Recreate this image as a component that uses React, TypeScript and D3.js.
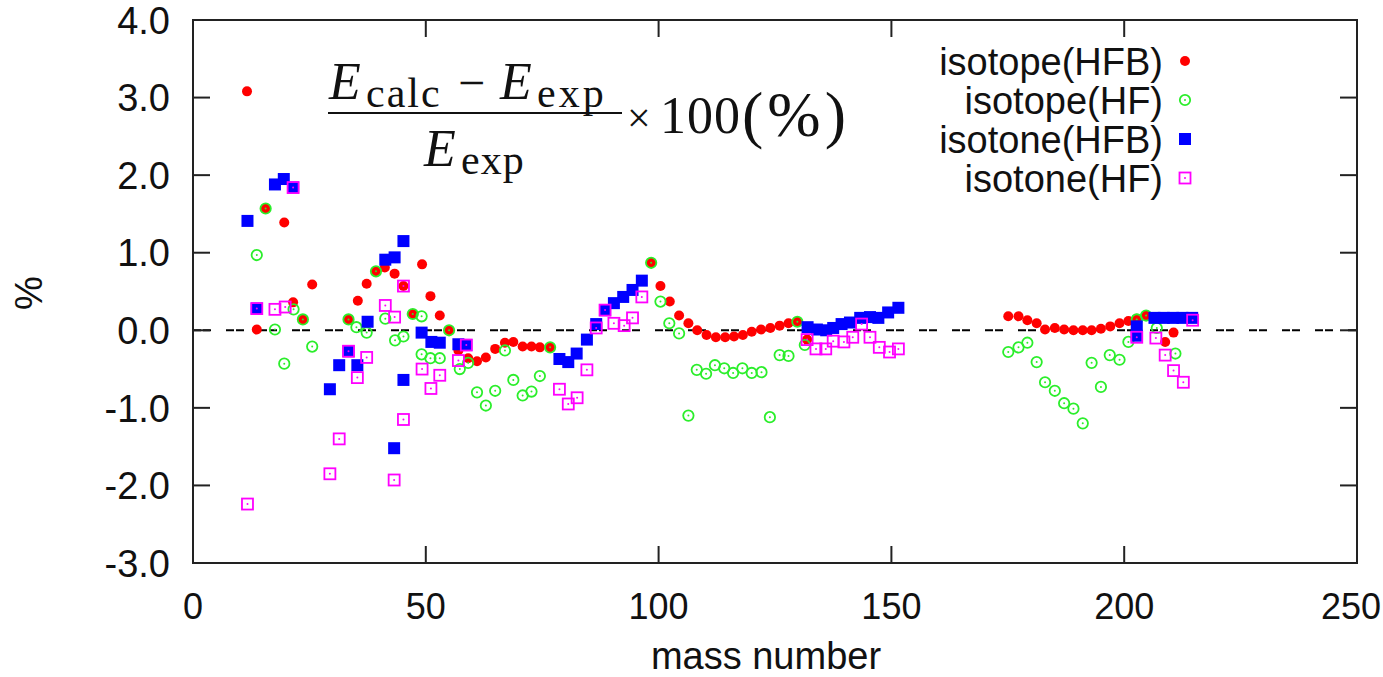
import React, { useEffect, useRef } from "react";
import * as d3 from "d3";

type P = [number, number];

const isotopeHFB: P[] = [
  [11.6, 3.08], [13.7, 0.01], [15.6, 1.57], [19.6, 1.39], [21.5, 0.36], [23.6, 0.14], [25.6, 0.59],
  [33.4, 0.14], [35.4, 0.38], [37.3, 0.6], [39.3, 0.76], [41.2, 0.81], [43.3, 0.73], [45.2, 0.57],
  [47.2, 0.21], [49.2, 0.85], [51, 0.44], [53, 0.19], [55, 0.0], [57, -0.26], [59.1, -0.36],
  [61, -0.4], [62.9, -0.35], [64.9, -0.24], [67, -0.16], [68.8, -0.15], [70.8, -0.21], [72.7, -0.21],
  [74.5, -0.22], [76.7, -0.22],
  [98.4, 0.87], [100.4, 0.57], [102.4, 0.37], [104.4, 0.19], [106.4, 0.09], [108.3, 0.0],
  [110.3, -0.06], [112.3, -0.09], [114.3, -0.09], [116.2, -0.08], [118.1, -0.06], [120, -0.02],
  [122, 0.01], [124, 0.03], [126, 0.06], [127.9, 0.09], [129.8, 0.11], [131.9, -0.12],
  [175.1, 0.18], [177.3, 0.18], [179.2, 0.13], [181.2, 0.09], [183, 0.01], [185.1, 0.03],
  [187.1, 0.01], [189.1, 0.0], [191.1, 0.0], [193, 0.0], [195, 0.02], [197, 0.05], [199, 0.09],
  [200.9, 0.12], [202.7, 0.15], [204.7, 0.19], [208.8, -0.15], [210.6, -0.03],
];

const isotopeHF: P[] = [
  [13.7, 0.97], [15.6, 1.57], [17.6, 0.01], [19.6, -0.43], [21.6, 0.27], [23.6, 0.14], [25.6, -0.21],
  [33.4, 0.14], [35.1, 0.04], [37.3, -0.03], [39.3, 0.76], [41.3, 0.15], [43.4, -0.13], [45.2, -0.08],
  [47.2, 0.21], [49.1, 0.18], [49.1, -0.31], [51, -0.36], [53, -0.36], [55, 0.0], [57.3, -0.5],
  [59.1, -0.42], [61, -0.8], [62.9, -0.97], [64.9, -0.78], [67, -0.26], [68.8, -0.64], [70.8, -0.84],
  [72.7, -0.79], [74.5, -0.59], [76.7, -0.22],
  [98.4, 0.87], [100.4, 0.37], [102.3, 0.09], [104.4, -0.04], [106.4, -1.1], [108.2, -0.51],
  [110.2, -0.56], [112.1, -0.45], [114.1, -0.49], [116, -0.55], [118, -0.49], [120, -0.55],
  [122.1, -0.54], [123.9, -1.12], [126, -0.32], [127.9, -0.33], [129.8, 0.11], [131.4, -0.19],
  [175.1, -0.28], [177.3, -0.22], [179.2, -0.16], [181.2, -0.41], [183, -0.67], [185.1, -0.78],
  [187.1, -0.94], [189.1, -1.01], [191.1, -1.2], [193, -0.42], [195, -0.73], [196.9, -0.32],
  [199, -0.38], [200.9, -0.15], [202.7, 0.14], [204.7, 0.19], [207, 0.03], [211, -0.3],
];

const isotoneHFB: P[] = [
  [11.7, 1.41], [13.7, 0.28], [17.6, 1.88], [19.5, 1.95], [21.5, 1.84], [29.4, -0.76], [31.4, -0.45],
  [33.4, -0.27], [35.3, -0.45], [37.5, 0.11], [41.3, 0.91], [43.3, 0.94], [43.2, -1.52], [45.2, 1.15],
  [45.2, -0.64], [49.1, -0.03], [51.2, -0.15], [53, -0.16], [57, -0.18], [58.7, -0.19],
  [78.7, -0.37], [80.6, -0.41], [82.4, -0.3], [84.6, -0.12], [86.6, 0.08], [88.5, 0.26], [90.4, 0.35],
  [92.4, 0.43], [94.4, 0.52], [96.4, 0.64],
  [132, 0.04], [134, 0.01], [136, 0.0], [137.5, 0.03], [139.3, 0.08], [141.1, 0.1], [143.3, 0.16],
  [145.4, 0.17], [147.2, 0.16], [149.3, 0.23], [151.5, 0.29],
  [202.7, 0.05], [202.7, -0.07], [206.5, 0.16], [208.5, 0.16], [210.5, 0.16], [212.5, 0.16], [214.6, 0.16],
];

const isotoneHF: P[] = [
  [11.7, -2.24], [13.7, 0.28], [17.6, 0.27], [19.8, 0.3], [21.5, 1.84], [29.4, -1.85], [31.4, -1.4],
  [33.4, -0.27], [35.3, -0.61], [37.3, -0.35], [41.3, 0.32], [43.3, 0.17], [43.2, -1.93], [45.2, 0.57],
  [45.2, -1.15], [49.2, -0.5], [51.1, -0.75], [53, -0.58], [57, -0.39], [58.7, -0.19],
  [78.7, -0.76], [80.6, -0.95], [82.5, -0.87], [84.6, -0.51], [86.6, 0.03], [88.5, 0.26], [90.4, 0.09],
  [92.6, 0.06], [94.4, 0.16], [96.4, 0.43],
  [131.9, -0.12], [133.8, -0.24], [135.9, -0.24], [137.5, -0.14], [139.8, -0.15], [141.7, -0.09],
  [143.6, 0.08], [145.4, -0.09], [147.4, -0.22], [149.6, -0.28], [151.5, -0.24],
  [202.7, -0.09], [206.8, -0.1], [208.8, -0.32], [210.6, -0.52], [212.7, -0.67], [214.7, 0.13],
];

const xTicks = [0, 50, 100, 150, 200, 250];
const yTicks = [-3, -2, -1, 0, 1, 2, 3, 4];
const legendLabels = ["isotope(HFB)", "isotope(HF)", "isotone(HFB)", "isotone(HF)"];
const xTitle = "mass number";
const yTitle = "%";

const RED = "#ff0000";
const GREEN = "#2bee2b";
const BLUE = "#0000ff";
const MAG = "#ff00ff";
const SANS = "'Liberation Sans', Arial, sans-serif";
const SERIF = "'Liberation Serif', 'Times New Roman', serif";

export default function App() {
  const ref = useRef<SVGSVGElement>(null);
  useEffect(() => {
    const svg = d3.select(ref.current);
    svg.selectAll("*").remove();
    const x = d3.scaleLinear().domain([0, 250]).range([193, 1357]);
    const y = d3.scaleLinear().domain([-3, 4]).range([563, 20]);
    const [x0, x1] = x.range();
    const [yb, yt] = y.range();
    const tl = 17;

    // zero line
    svg.append("line")
      .attr("x1", x0).attr("x2", x1).attr("y1", y(0)).attr("y2", y(0))
      .attr("stroke", "#000").attr("stroke-width", 2).attr("stroke-dasharray", "8 2 8 15");

    const g = svg.append("g").attr("stroke", "#222").attr("stroke-width", 2);
    yTicks.forEach((t) => {
      g.append("line").attr("x1", x0).attr("x2", x0 + tl).attr("y1", y(t)).attr("y2", y(t));
      g.append("line").attr("x1", x1).attr("x2", x1 - tl).attr("y1", y(t)).attr("y2", y(t));
    });
    xTicks.forEach((t) => {
      g.append("line").attr("x1", x(t)).attr("x2", x(t)).attr("y1", yb).attr("y2", yb - tl);
      g.append("line").attr("x1", x(t)).attr("x2", x(t)).attr("y1", yt).attr("y2", yt + tl);
    });
    g.append("rect").attr("x", x0).attr("y", yt).attr("width", x1 - x0).attr("height", yb - yt)
      .attr("fill", "none");

    // tick labels
    svg.append("g").selectAll("text").data(yTicks).join("text")
      .attr("x", 170).attr("y", (d) => y(d)).attr("dy", "0.36em")
      .attr("text-anchor", "end").attr("font-family", SANS).attr("font-size", 38).attr("fill", "#111")
      .text((d) => d.toFixed(1));
    svg.append("g").selectAll("text").data(xTicks).join("text")
      .attr("x", (d, i) => (i === xTicks.length - 1 ? 1381 : x(d))).attr("y", 619)
      .attr("text-anchor", (d, i) => (i === xTicks.length - 1 ? "end" : "middle"))
      .attr("font-family", SANS).attr("font-size", 36).attr("fill", "#111")
      .text((d) => String(d));

    svg.append("text").attr("x", 766).attr("y", 669).attr("text-anchor", "middle")
      .attr("font-family", SANS).attr("font-size", 38).attr("fill", "#111").text(xTitle);
    svg.append("text").attr("transform", "translate(42,293) rotate(-90)").attr("text-anchor", "middle")
      .attr("font-family", SANS).attr("font-size", 38).attr("fill", "#111").text(yTitle);

    // markers
    const drawDot = (sel: any, cx: number, cy: number) =>
      sel.append("circle").attr("cx", cx).attr("cy", cy).attr("r", 5).attr("fill", RED);
    const drawRing = (sel: any, cx: number, cy: number) => {
      sel.append("circle").attr("cx", cx).attr("cy", cy).attr("r", 5.2).attr("fill", "none")
        .attr("stroke", GREEN).attr("stroke-width", 1.8);
      sel.append("circle").attr("cx", cx).attr("cy", cy).attr("r", 1).attr("fill", GREEN);
    };
    const drawBox = (sel: any, cx: number, cy: number) =>
      sel.append("rect").attr("x", cx - 6).attr("y", cy - 6).attr("width", 12).attr("height", 12).attr("fill", BLUE);
    const drawOpenBox = (sel: any, cx: number, cy: number) => {
      sel.append("rect").attr("x", cx - 5.5).attr("y", cy - 5.5).attr("width", 11).attr("height", 11)
        .attr("fill", "none").attr("stroke", MAG).attr("stroke-width", 1.8);
      sel.append("circle").attr("cx", cx).attr("cy", cy).attr("r", 1).attr("fill", MAG);
    };

    const series: [P[], (s: any, a: number, b: number) => void][] = [
      [isotopeHFB, drawDot],
      [isotopeHF, drawRing],
      [isotoneHFB, drawBox],
      [isotoneHF, drawOpenBox],
    ];
    series.forEach(([data, fn]) => {
      const sg = svg.append("g");
      data.forEach(([a, v]) => fn(sg, x(a), y(v)));
    });

    // legend
    const lg = svg.append("g");
    legendLabels.forEach((lab, i) => {
      const cy = 61 + i * 39;
      lg.append("text").attr("x", 1163).attr("y", cy).attr("dy", "0.36em").attr("text-anchor", "end")
        .attr("font-family", SANS).attr("font-size", 38).attr("fill", "#111").text(lab);
      series[i][1](lg, 1185, cy);
    });

    // formula
    const f = svg.append("g").attr("font-family", SERIF).attr("fill", "#111");
    const t = (xx: number, yy: number, s: string, size: number, italic = false, ls = 0) =>
      f.append("text").attr("x", xx).attr("y", yy).attr("font-size", size)
        .attr("font-style", italic ? "italic" : "normal").attr("letter-spacing", ls).text(s);
    t(329, 99, "E", 52, true);
    t(366, 107, "calc", 42, false, 2);
    t(458, 99, "\u2212", 48);
    t(500, 99, "E", 52, true);
    t(537, 107, "exp", 42, false, 3);
    f.append("line").attr("x1", 328).attr("x2", 622).attr("y1", 113).attr("y2", 113)
      .attr("stroke", "#111").attr("stroke-width", 2.2);
    t(424, 166, "E", 52, true);
    t(461, 174, "exp", 42, false, 1);
    t(627, 132, "\u00d7", 42);
    t(660, 133, "100", 52, false, 1);
    t(742, 136, "(%)", 64, false, 4);
  }, []);
  return (
    <svg ref={ref} width={1383} height={677}
      style={{ position: "absolute", left: 0, top: 0, background: "#fff" }} />
  );
}
